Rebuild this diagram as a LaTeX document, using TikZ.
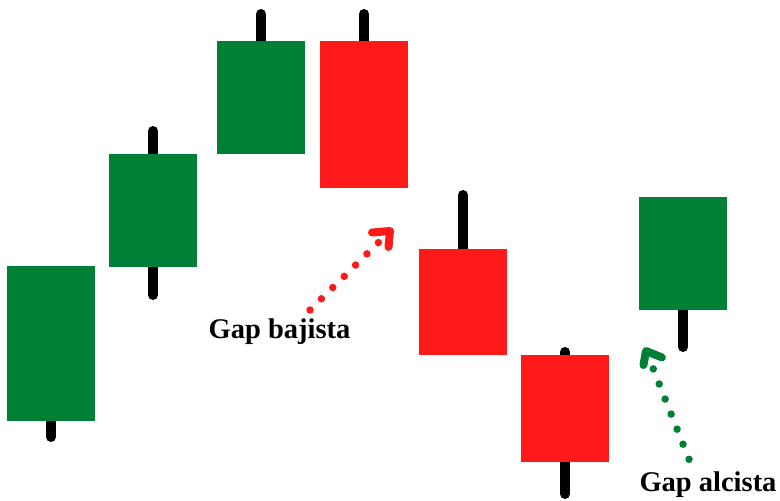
\documentclass[tikz,border=0pt]{standalone}
\usepackage{fontspec}
\setmainfont{Liberation Serif}
\usetikzlibrary{backgrounds}
\definecolor{candlegreen}{RGB}{0,127,55}
\definecolor{candlered}{RGB}{255,26,26}
\begin{document}
\begin{tikzpicture}[x=1pt,y=-1pt,
  body/.style={draw=none,inner sep=0pt,outer sep=0pt,minimum width=88pt},
  bull/.style={body,fill=candlegreen},
  bear/.style={body,fill=candlered},
  wick/.style={line width=10pt,line cap=round,black},
  dots/.style={line width=7.5pt,line cap=round,dash pattern=on 0pt off 16pt},
  chev/.style={line width=8pt,line cap=round,line join=round},
  lbl/.style={font=\bfseries\fontsize{28.5}{32}\selectfont,anchor=base,inner sep=0pt}]
\useasboundingbox (0,0) rectangle (780,501);
% candle bodies
\node[bull,minimum height=155pt] (c1) at (51,343.5) {};
\node[bull,minimum height=113pt] (c2) at (153,210.5) {};
\node[bull,minimum height=113pt] (c3) at (261,97.5) {};
\node[bear,minimum height=147pt] (c4) at (364,114.5) {};
\node[bear,minimum height=106pt] (c5) at (463,302) {};
\node[bear,minimum height=107pt] (c6) at (565,408.5) {};
\node[bull,minimum height=113pt] (c7) at (683,253.5) {};
% wick ends
\coordinate (w1b) at (51,437);
\coordinate (w2t) at (153,131);
\coordinate (w2b) at (153,295);
\coordinate (w3t) at (261,14);
\coordinate (w4t) at (364,14);
\coordinate (w5t) at (463,195);
\coordinate (w6t) at (565,352);
\coordinate (w6b) at (565,494);
\coordinate (w7b) at (683,347);
\begin{pgfonlayer}{background}
\draw[wick] (c1.center) -- (w1b);
\draw[wick] (w2t) -- (w2b);
\draw[wick] (c3.center) -- (w3t);
\draw[wick] (c4.center) -- (w4t);
\draw[wick] (c5.center) -- (w5t);
\draw[wick] (w6t) -- (w6b);
\draw[wick] (c7.center) -- (w7b);
\end{pgfonlayer}
% labels
\node[lbl] (lb) at (279.5,338) {Gap bajista};
\node[lbl] (la) at (708,491.5) {Gap alcista};
% bearish gap arrow
\coordinate (rd0) at (310,310);
\coordinate (rd1) at (379,242);
\coordinate (rt) at (390,231);
\coordinate (ra1) at (372,232.5);
\coordinate (ra2) at (388.5,247);
\draw[dots,candlered] (rd0) -- (rd1);
\draw[chev,candlered] (ra1) -- (rt) -- (ra2);
% bullish gap arrow
\coordinate (gd0) at (689,459.3);
\coordinate (gd1) at (653,368.3);
\coordinate (gt) at (646,351);
\coordinate (ga1) at (643.5,365);
\coordinate (ga2) at (662,357.5);
\draw[dots,candlegreen,dash pattern=on 0pt off 16.2pt] (gd0) -- (gd1);
\draw[chev,candlegreen] (ga1) -- (gt) -- (ga2);
\end{tikzpicture}
\end{document}
